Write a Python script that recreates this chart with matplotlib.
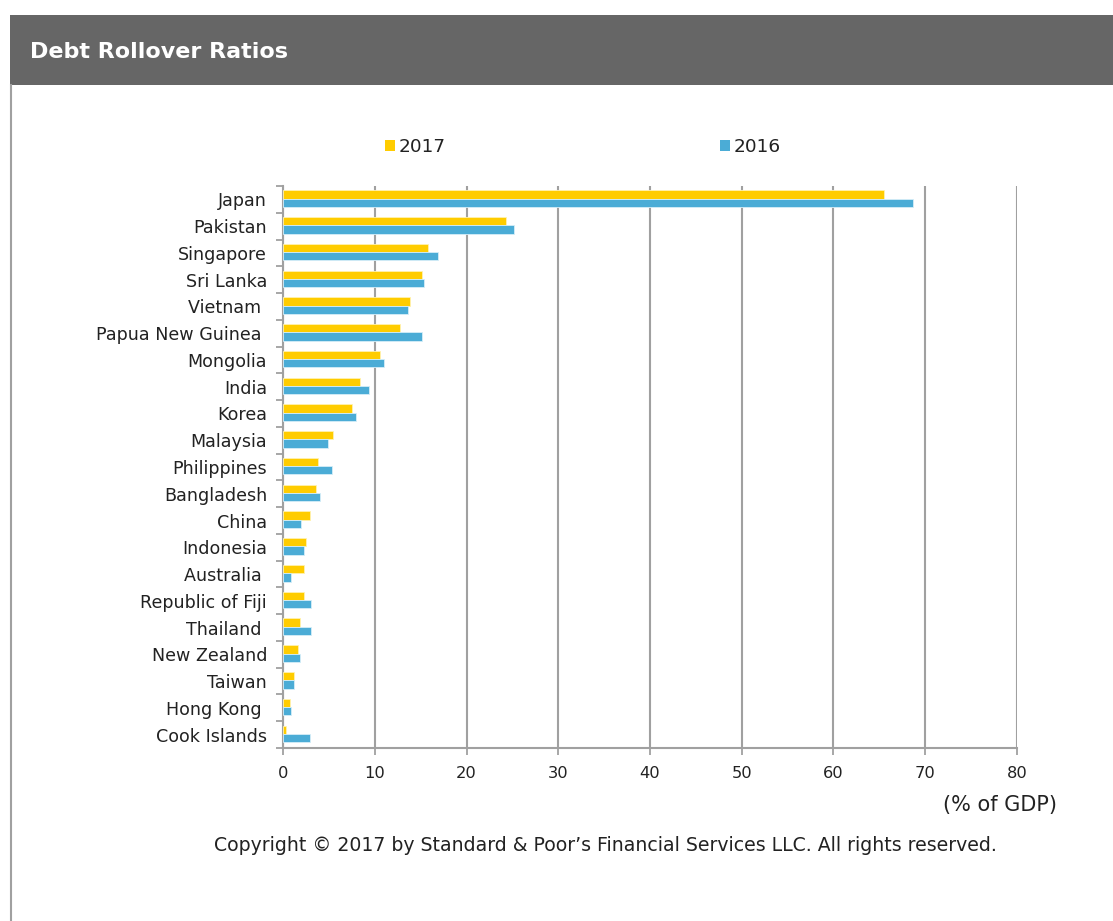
import matplotlib
matplotlib.use("Agg")
import matplotlib.pyplot as plt
from matplotlib.patches import Rectangle, Patch
import numpy as np

plt.rcParams['font.family'] = ['DejaVu Sans']

countries = ["Japan", "Pakistan", "Singapore", "Sri Lanka", "Vietnam ", "Papua New Guinea ",
             "Mongolia", "India", "Korea", "Malaysia", "Philippines", "Bangladesh", "China",
             "Indonesia", "Australia ", "Republic of Fiji", "Thailand ", "New Zealand", "Taiwan",
             "Hong Kong ", "Cook Islands"]
v2017 = [65.5, 24.3, 15.8, 15.1, 13.8, 12.7, 10.6, 8.4, 7.5, 5.5, 3.8, 3.6, 2.9, 2.5,
         2.3, 2.3, 1.9, 1.6, 1.2, 0.8, 0.3]
v2016 = [68.7, 25.2, 16.9, 15.4, 13.6, 15.1, 11.0, 9.4, 8.0, 4.9, 5.3, 4.0, 2.0, 2.3,
         0.9, 3.1, 3.1, 1.9, 1.2, 0.9, 2.9]
xticks = [0, 10, 20, 30, 40, 50, 60, 70, 80]

W, H = 1113, 921
TXT = '#222222'
GRID = '#a0a0a0'
fig = plt.figure(figsize=(W / 100, H / 100), dpi=100)
fig.patch.set_facecolor('white')

# Header bar
fig.patches.append(Rectangle((10 / W, 1 - 85 / H), 1 - 10 / W, 70 / H,
                             transform=fig.transFigure, facecolor='#666666',
                             edgecolor='none', zorder=0))
fig.text(30 / W, 1 - 52 / H, "Debt Rollover Ratios", color='white', fontsize=16,
         fontweight='bold', va='center', ha='left')
# left border line
fig.lines.append(plt.Line2D([11 / W, 11 / W], [0, 1 - 85 / H], transform=fig.transFigure,
                            color='#a0a0a0', lw=1.5))

ax = fig.add_axes([283 / W, 1 - 748 / H, (1017 - 283) / W, (748 - 186) / H])
y = np.arange(len(countries))
h = 0.31
ax.barh(y - h / 2 - 0.03, v2017, height=h, color='#FFCC00', edgecolor='#FFF2B0',
        linewidth=0.6, label='2017', zorder=3)
ax.barh(y + h / 2 - 0.03, v2016, height=h, color='#4BACD6', edgecolor='#D6EEF8',
        linewidth=0.6, label='2016', zorder=3)
ax.set_ylim(len(countries) - 0.5, -0.5)
ax.set_xlim(0, 80)
ax.set_xticks(xticks)
ax.set_xticklabels([str(t) for t in xticks], fontsize=11.7, color=TXT)
ax.set_yticks(y)
ax.set_yticklabels(countries, fontsize=12.6, color=TXT)
ax.set_yticks(np.arange(len(countries) + 1) - 0.5, minor=True)
ax.tick_params(axis='y', which='major', length=0, pad=11.5)
ax.tick_params(axis='y', which='minor', length=5, width=1.3, color=GRID)
ax.tick_params(axis='x', which='major', length=5, width=1.3, color=GRID, pad=8)
for s in ['top', 'right']:
    ax.spines[s].set_visible(False)
for s in ['left', 'bottom']:
    ax.spines[s].set_color(GRID)
    ax.spines[s].set_linewidth(1.5)
ax.grid(axis='x', color=GRID, linewidth=1.5, zorder=0)
ax.set_axisbelow(True)

# legend: two entries placed like the reference
h17 = Patch(facecolor='#FFCC00', edgecolor='none', label='2017')
h16 = Patch(facecolor='#4BACD6', edgecolor='none', label='2016')
legkw = dict(loc='center left', bbox_transform=fig.transFigure, frameon=False,
             fontsize=13.3, handlelength=0.52, handleheight=0.52, handletextpad=0.2,
             borderpad=0, borderaxespad=0, labelcolor=TXT)
leg1 = ax.legend(handles=[h17], bbox_to_anchor=(385 / W, 1 - 147 / H), **legkw)
ax.add_artist(leg1)
ax.legend(handles=[h16], bbox_to_anchor=(720 / W, 1 - 147 / H), **legkw)

fig.text(1057 / W, 1 - 805 / H, "(% of GDP)", ha='right', va='center', fontsize=15,
         color=TXT)
fig.text(605 / W, 1 - 845 / H,
         "Copyright \u00a9 2017 by Standard & Poor\u2019s Financial Services LLC. All rights reserved.",
         ha='center', va='center', fontsize=13.6, color=TXT)

fig.savefig('out.png', dpi=100)
